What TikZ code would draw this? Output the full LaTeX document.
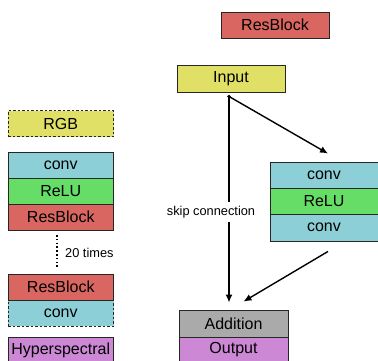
\documentclass[tikz,border=0pt]{standalone}
\usepackage{fontspec}
\setmainfont{Liberation Sans}
\usetikzlibrary{arrows.meta,calc}
\definecolor{cred}{HTML}{D96660}
\definecolor{cyel}{HTML}{E0E066}
\definecolor{ccyan}{HTML}{8DCFD7}
\definecolor{cgreen}{HTML}{66DD66}
\definecolor{cgray}{HTML}{AAAAAA}
\definecolor{cpurple}{HTML}{CC88D5}
\tikzset{
  box/.style={draw=black!85, line width=0.9pt, minimum width=105.5pt, minimum height=26pt,
    inner sep=0pt, font=\fontsize{16}{18}\selectfont, anchor=center},
  dbox/.style={box, dashed, dash pattern=on 2.5pt off 2pt},
  arr/.style={line width=1.4pt, -{Latex[length=8pt,width=7pt]}},
  small/.style={font=\fontsize{12.8}{15}\selectfont, inner sep=0pt}
}
\begin{document}
\begin{tikzpicture}[x=1pt,y=-1pt]
\useasboundingbox (0,0) rectangle (378,360);
% left column
\node[dbox, fill=cyel] (rgb) at (60.75,123.5) {RGB};
\node[box, fill=ccyan] (lconv) at (60.75,165) {conv};
\node[box, fill=cgreen] (lrelu) at (60.75,191) {ReLU};
\node[box, fill=cred] (lres) at (60.75,217) {ResBlock};
\coordinate (dtop) at (57,235);
\coordinate (dbot) at (57,268);
\draw[line width=1.4pt, dash pattern=on 1.6pt off 2.2pt] (dtop) -- (dbot);
\node[small, anchor=west] (times) at (65,253) {20 times};
\node[dbox, fill=ccyan] (lconv2) at (60.75,313) {conv};
\node[box, fill=cred] (lres2) at (60.75,287) {ResBlock};
\node[box, fill=cpurple] (hyper) at (60.75,350) {Hyperspectral};
% right part
\node[box, fill=cred, minimum width=108pt] (title) at (275,25) {ResBlock};
\node[box, fill=cyel, minimum width=108pt, minimum height=27pt] (input) at (231,78.5) {Input};
\node[box, fill=ccyan, minimum width=108pt] (rconv1) at (324,175) {conv};
\node[box, fill=cgreen, minimum width=108pt] (rrelu) at (324,201) {ReLU};
\node[box, fill=ccyan, minimum width=108pt, minimum height=27pt] (rconv2) at (324,227.5) {conv};
\node[box, fill=cgray, minimum width=109pt, minimum height=27pt] (add) at (233.5,323.5) {Addition};
\node[box, fill=cpurple, minimum width=109pt] (out) at (233.5,350) {Output};
% connectors
\coordinate (s) at ([xshift=-2pt,yshift=-4pt]input.south);
\coordinate (e0) at ($(s |- add.north)+(0,-7)$);
\coordinate (e1) at ([xshift=4pt,yshift=8pt]rconv1.north);
\coordinate (s2) at ([xshift=4pt,yshift=-10pt]rconv2.south);
\coordinate (e2) at ([xshift=10pt,yshift=8pt]add.north);
\draw[arr] (s) -- (e0);
\draw[arr] (s) -- (e1);
\draw[arr] (s2) -- (e2);
\fill (s) circle (1.8pt);
\node[small, fill=white, inner ysep=4pt, inner xsep=1pt] (skip) at (211,212) {skip connection};
\end{tikzpicture}
\end{document}
